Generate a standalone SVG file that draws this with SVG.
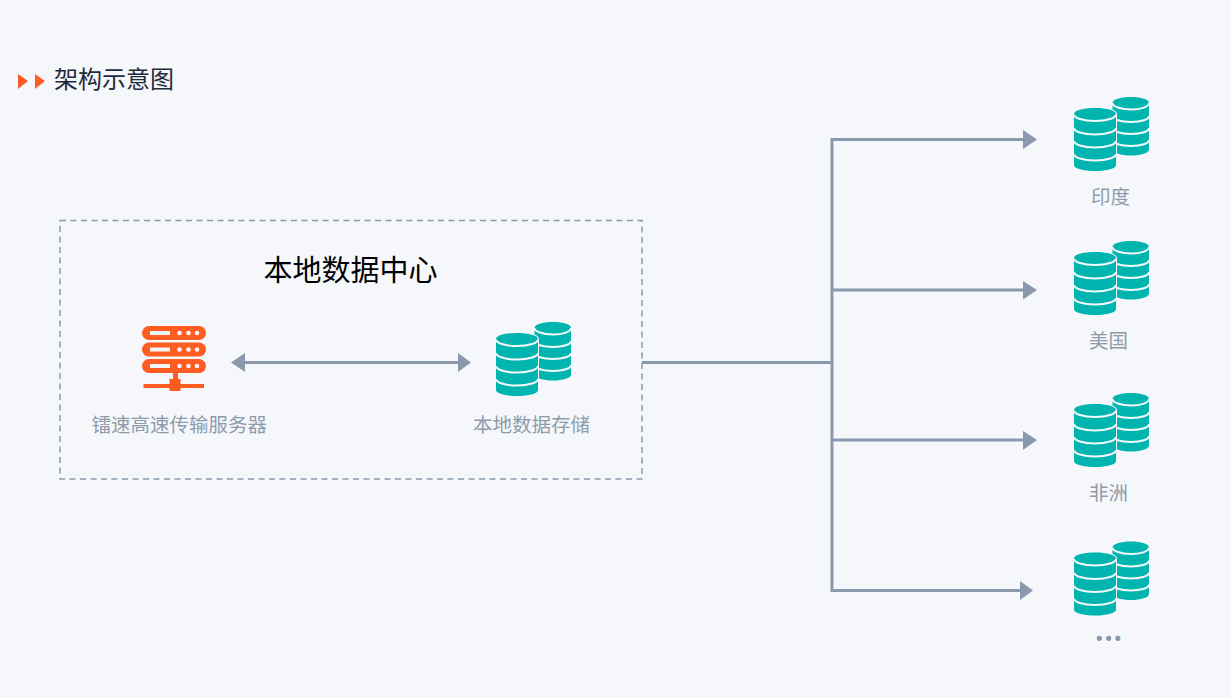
<svg xmlns="http://www.w3.org/2000/svg" width="1231" height="697" viewBox="0 0 1231 697">
<style>
text{font-family:"Noto Sans CJK SC","Noto Sans",sans-serif}
.lb{font-size:19.5px;fill:#8e9bab}
.cn{fill:none;stroke:#8a99ae;stroke-width:3}
.ah{fill:#8a99ae}
.or{fill:#ff5c22}
.cy{fill:#00b5af}
.cu{fill:none;stroke:#f5f7fb;stroke-width:2}
</style>
<defs>
<symbol id="db" overflow="visible">
<path class="cy" d="M38.500 -5C38.500 -8.500 46.500 -11 57 -11S75 -8.500 75 -5V41.500C75 45 67 47.500 57 47.500S38.500 45 38.500 41.500Z"/>
<path class="cu" d="M38.500 -5C38.500 -1.500 46.500 1.500 57 1.500S75 -1.500 75 -5M38.500 8C38.500 11.500 46.500 14 57 14S75 11.500 75 8M38.500 20C38.500 23.500 46.500 26 57 26S75 23.500 75 20M38.500 32C38.500 35.500 46.500 38 57 38S75 35.500 75 32"/>
<path class="cy" d="M0 6C0 2.500 9 0 21 0S42 2.500 42 6V57C42 60.500 33 63 21 63S0 60.500 0 57Z" stroke="#f5f7fb" stroke-width="2" paint-order="stroke"/>
<path class="cu" d="M0 6.500C0 10 9 13 21 13S42 10 42 6.500M0 20C0 23.500 9 26.500 21 26.500S42 23.500 42 20M0 33C0 36.500 9 39.500 21 39.500S42 36.500 42 33M0 46C0 49.500 9 52.500 21 52.500S42 49.500 42 46"/>
</symbol>
</defs>
<rect width="1231" height="697" fill="#f5f7fb"/>
<g id="title">
<path class="or" d="M18 74L28 81L18 89ZM35 74L45 81L35 89Z"/>
<text x="54" y="88" font-size="24" fill="#1f2a3a">架构示意图</text>
</g>
<g id="local-dc">
<rect x="60" y="220.500" width="582" height="258.500" fill="none" stroke="#8a99ae" stroke-width="1.500" stroke-dasharray="6 4.500"/>
<text x="263.500" y="281" font-size="29" fill="#000">本地数据中心</text>
</g>
<g id="connectors">
<path class="cn" d="M242 362.500H460"/>
<path class="ah" d="M231 362.500L245 353V372ZM471 362.500L458 353V372Z"/>
<path class="cn" d="M642 362.500H832M1026 139.500H832V590.500H1022M832 290H1026M832 440H1026"/>
<path class="ah" d="M1037 139.500L1023 130V149ZM1037 290L1023 281V299.500ZM1037 440L1023 431V450ZM1033 590.500L1020 581V600Z"/>
</g>
<g id="server">
<rect class="or" x="142" y="326" width="64" height="14" rx="7"/>
<rect class="or" x="142" y="342.500" width="64" height="14" rx="7"/>
<rect class="or" x="142" y="359" width="64" height="14" rx="7"/>
<g fill="#f5f7fb">
<rect x="150" y="331" width="20" height="4"/><rect x="150" y="347.500" width="20" height="4"/><rect x="150" y="364" width="20" height="4"/>
<circle cx="179.500" cy="333" r="2.300"/><circle cx="188.500" cy="333" r="2.300"/><circle cx="197" cy="333" r="2.300"/>
<circle cx="179.500" cy="349.500" r="2.300"/><circle cx="188.500" cy="349.500" r="2.300"/><circle cx="197" cy="349.500" r="2.300"/>
<circle cx="179.500" cy="366" r="2.300"/><circle cx="188.500" cy="366" r="2.300"/><circle cx="197" cy="366" r="2.300"/>
</g>
<rect class="or" x="173" y="373" width="5" height="7"/>
<rect class="or" x="169.500" y="379" width="11" height="12"/>
<rect class="or" x="143.500" y="384" width="60.500" height="4"/>
<text class="lb" x="91.500" y="432">镭速高速传输服务器</text>
</g>
<g id="local-storage">
<use href="#db" x="496" y="333"/>
<text class="lb" x="473" y="432">本地数据存储</text>
</g>
<g id="india">
<use href="#db" x="1074" y="108"/>
<text class="lb" x="1091" y="204">印度</text>
</g>
<g id="usa">
<use href="#db" x="1074" y="252"/>
<text class="lb" x="1089" y="348">美国</text>
</g>
<g id="africa">
<use href="#db" x="1074" y="404"/>
<text class="lb" x="1089" y="500">非洲</text>
</g>
<g id="more">
<use href="#db" x="1074" y="552.500"/>
<text x="1094.700" y="640.600" font-size="28" font-weight="700" fill="#8a99ae" letter-spacing="0.200">...</text>
</g>
</svg>
